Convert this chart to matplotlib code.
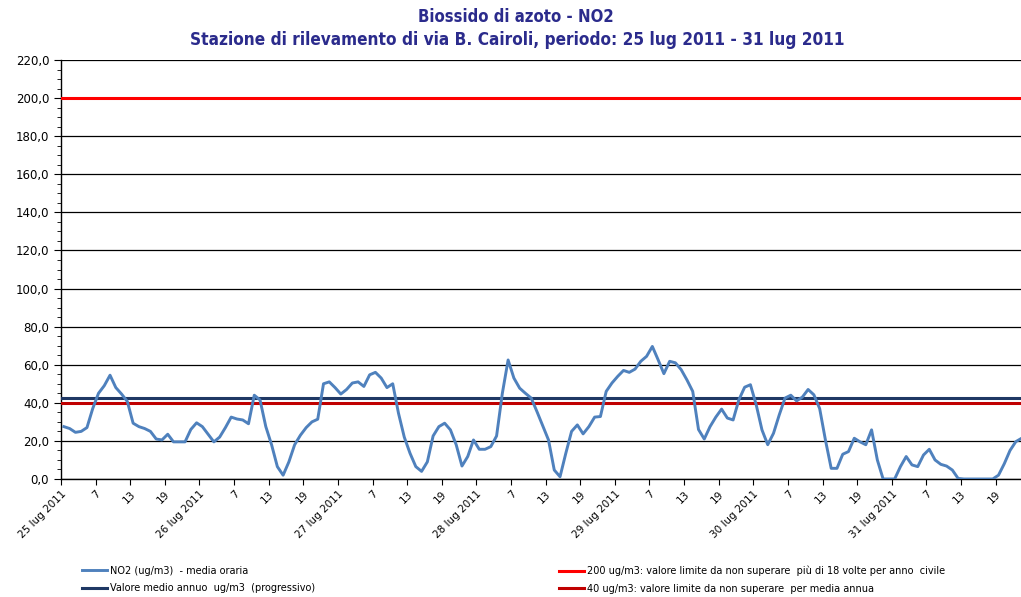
import numpy as np
import matplotlib
matplotlib.use("Agg")
import matplotlib.pyplot as plt
from matplotlib.ticker import MultipleLocator, FuncFormatter

# -----------------------------
# Data (hourly NO2, 25-31 lug 2011)
# -----------------------------
days = ["25 lug 2011", "26 lug 2011", "27 lug 2011", "28 lug 2011",
        "29 lug 2011", "30 lug 2011", "31 lug 2011"]
hour_labels = ["7", "13", "19"]

no2_25 = [27.5, 26.5, 24.5, 25, 27, 37, 45, 49, 54.5, 48, 44.6, 40.7,
          29.3, 27.5, 26.5, 25, 21, 20.5, 23.5, 19.5, 19.5, 19.5, 26, 29.5]
no2_26 = [27.5, 23.5, 19.5, 22, 27, 32.5, 31.5, 31, 29, 44, 41.5, 27.5,
          18, 6.5, 2, 9, 18, 23, 27, 30, 31.4, 50, 51, 48]
no2_27 = [44.6, 47, 50.4, 51, 48.6, 54.7, 56, 53, 48, 50, 34.5, 22,
          13.5, 6.5, 4, 9, 22.6, 27.5, 29.3, 25.8, 18, 6.8, 11.8, 20.5]
no2_28 = [15.6, 15.6, 17, 22.6, 45, 62.5, 53, 47.7, 45, 42.5, 35.4, 28,
          20.5, 4.7, 1.2, 13.5, 25, 28.4, 23.7, 27.5, 32.5, 32.8, 46, 50.4]
no2_29 = [53.9, 57, 56, 57.7, 61.8, 64.4, 69.6, 62.6, 55.3, 61.8, 61, 57.4,
          52, 46, 26, 21, 27.5, 32.5, 36.7, 32, 31, 41.6, 48.2, 49.5]
no2_30 = [39, 25.8, 18, 24, 33.7, 42.5, 44, 41, 43, 47, 44.2, 37,
          20.5, 5.6, 5.6, 13, 14.4, 21.4, 19.5, 18, 25.8, 10, 0, 0]
no2_31 = [0, 6.5, 11.8, 7.4, 6.5, 12.6, 15.6, 10, 7.7, 6.8, 4.7, 0.3,
          0, 0, 0, 0, 0, 0, 2, 8, 15, 19.6, 21.4, 23]

media_annua = 42.5
limite_orario = 200
limite_annuo = 40

no2 = np.array(no2_25 + no2_26 + no2_27 + no2_28 + no2_29 + no2_30 + no2_31)
n = len(no2)
x = np.arange(n) + 0.5   # categories sit between tick marks

# -----------------------------
# Figure
# -----------------------------
fig = plt.figure(figsize=(10.21, 5.97), dpi=100)
ax = fig.add_axes([61 / 1021, 118 / 597, 1 - 61 / 1021, 419 / 597])

ax.set_ylim(0, 220)
ax.set_xlim(0, 166.4)
ax.yaxis.set_major_locator(MultipleLocator(20))
ax.yaxis.set_minor_locator(MultipleLocator(5))
ax.yaxis.set_major_formatter(FuncFormatter(lambda v, p: f"{v:.1f}".replace(".", ",")))
ax.grid(axis="y", which="major", color="black", linewidth=0.9)
ax.set_axisbelow(True)

for s in ["top", "right"]:
    ax.spines[s].set_visible(False)
ax.spines["left"].set_linewidth(1.0)
ax.spines["bottom"].set_linewidth(1.0)

l1, = ax.plot(x, no2, color="#4F81BD", linewidth=2.1,
              label="NO2 (ug/m3)  - media oraria", zorder=4)
l2 = ax.axhline(media_annua, color="#1F3864", linewidth=2.2,
                label="Valore medio annuo  ug/m3  (progressivo)", zorder=3)
l3 = ax.axhline(limite_orario, color="#FF0000", linewidth=2.2,
                label="200 ug/m3: valore limite da non superare  più di 18 volte per anno  civile", zorder=3)
l4 = ax.axhline(limite_annuo, color="#C00000", linewidth=2.2,
                label="40 ug/m3: valore limite da non superare  per media annua", zorder=3)

ticks = np.arange(0, n, 6)
labels = []
for d in days:
    labels += [d] + hour_labels
ax.set_xticks(ticks)
ax.set_xticklabels(labels, rotation=45, ha="right", va="top",
                   rotation_mode="anchor", fontsize=7.5)
ax.tick_params(axis="x", length=4, direction="out", pad=3)
ax.tick_params(axis="y", which="major", length=5, direction="out", labelsize=8.5)
ax.tick_params(axis="y", which="minor", length=3, direction="out")

fig.text(0.505, 1 - 17 / 597, "Biossido di azoto - NO2", ha="center", va="center",
         fontsize=12, fontweight="bold", color="#2B2B8C", fontstretch="condensed")
fig.text(0.507, 1 - 40 / 597, "Stazione di rilevamento di via B. Cairoli, periodo: 25 lug 2011 - 31 lug 2011",
         ha="center", va="center", fontsize=12.3, fontweight="bold", color="#2B2B8C",
         fontstretch="condensed")

leg1 = fig.legend(handles=[l1, l2], loc="upper left", bbox_to_anchor=(78 / 1021, 1 - 562 / 597),
                  frameon=False, fontsize=7, handlelength=2.6, handletextpad=0.3,
                  labelspacing=0.75, borderaxespad=0)
leg2 = fig.legend(handles=[l3, l4], loc="upper left", bbox_to_anchor=(555 / 1021, 1 - 562 / 597),
                  frameon=False, fontsize=7, handlelength=2.6, handletextpad=0.3,
                  labelspacing=0.75, borderaxespad=0)

fig.savefig("out.png", dpi=100)
